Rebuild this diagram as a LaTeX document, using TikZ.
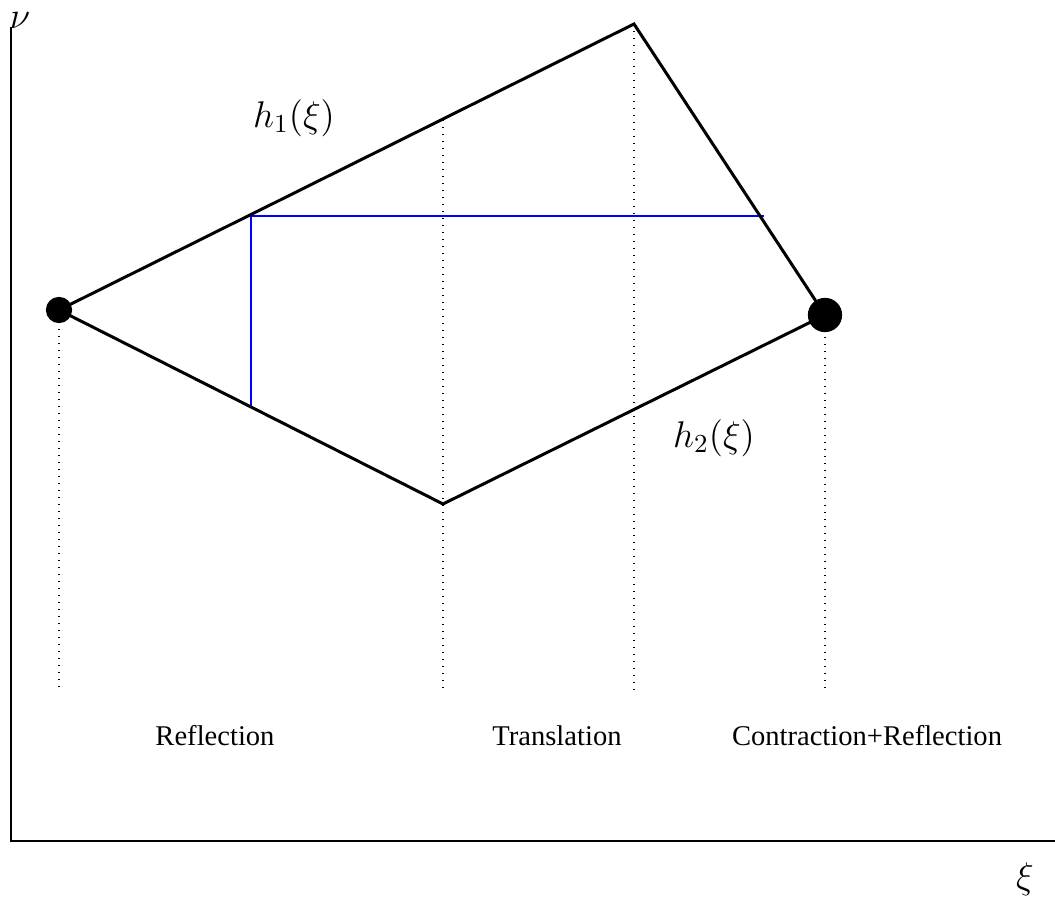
\RequirePackage{fix-cm}
\documentclass[tikz,border=0pt]{standalone}
\usepackage{fontspec}
\setmainfont{Liberation Serif}
\begin{document}
\begin{tikzpicture}[x=0.35pt,y=-0.35pt,
  edge/.style={line width=1.05pt},
  blueline/.style={blue,line width=0.5pt},
  axis/.style={line width=0.45pt},
  guide/.style={dotted,line width=0.45pt},
  bigdot/.style={circle,fill=black,inner sep=0pt},
  lbl/.style={inner sep=0pt,font=\normalsize},
  mlbl/.style={inner sep=0pt,font=\fontsize{13}{15}\selectfont}]
\useasboundingbox (0,0) rectangle (1055,897);
% axes
\coordinate (O) at (11,841);
\coordinate (Ytop) at (11,27);
\coordinate (Xend) at (1055,841);
\draw[axis] (Ytop) -- (O) -- (Xend);
\node[mlbl] (nu) at (20,21) {$\nu$};
\node[mlbl] (xi) at (1025,879) {$\xi$};
% vertices
\coordinate (L) at (59,310);
\coordinate (T) at (634,24);
\coordinate (B) at (443,504);
\coordinate (R) at (825,315);
% dotted guides
\coordinate (g1a) at (59,322);  \coordinate (g1b) at (59,690);
\coordinate (g2a) at (443,120); \coordinate (g2b) at (443,690);
\coordinate (g3a) at (634,24);  \coordinate (g3b) at (634,690);
\coordinate (g4a) at (825,330); \coordinate (g4b) at (825,690);
\draw[guide] (g1a) -- (g1b);
\draw[guide] (g2a) -- (g2b);
\draw[guide] (g3a) -- (g3b);
\draw[guide] (g4a) -- (g4b);
% blue lines
\coordinate (b1) at (251,216);
\coordinate (b2) at (764,216);
\coordinate (b3) at (251,407);
\draw[blueline] (b3) -- (b1) -- (b2);
% polygon edges
\draw[edge,line join=miter] (L) -- (T) -- (R);
\draw[edge] (L) -- (B) -- (R);
% dots
\node[bigdot,minimum size=9.2pt] (Ldot) at (L) {};
\node[bigdot,minimum size=12pt] (Rdot) at (R) {};
% labels
\node[mlbl] (h1) at (294,118) {$h_1(\xi)$};
\node[mlbl] (h2) at (714,438) {$h_2(\xi)$};
\node[lbl] (refl) at (215,736) {Reflection};
\node[lbl] (trans) at (557,736) {Translation};
\node[lbl] (contr) at (867,736) {Contraction+Reflection};
\end{tikzpicture}
\end{document}
